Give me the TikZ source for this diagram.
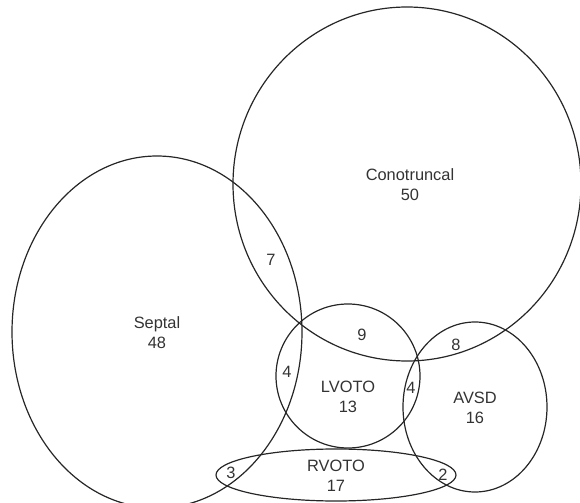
\documentclass[tikz,border=0pt]{standalone}
\usepackage{fontspec}
\setmainfont{Liberation Sans}
\usetikzlibrary{positioning}

\tikzset{
  setline/.style={line width=0.6pt, black!85},
  setlabel/.style={font=\fontsize{8.2}{10}\selectfont, align=center, inner sep=0pt, text=black!80},
}

\begin{document}
\begin{tikzpicture}[x=0.5pt, y=-0.5pt]
  \useasboundingbox (0,0) rectangle (580,503);
  \clip (0,0) rectangle (580,503);
  % centres of the sets
  \coordinate (conot) at (407,184);
  \coordinate (septal) at (157,332);
  \coordinate (lvoto) at (348,376);
  \coordinate (avsd) at (475,407);
  \coordinate (rvoto) at (336,475);
  \draw[setline] (conot) ellipse [x radius=174, y radius=177];
  \draw[setline] (septal) ellipse [x radius=145, y radius=176];
  \draw[setline] (lvoto) ellipse [x radius=72, y radius=72];
  \draw[setline] (avsd) ellipse [x radius=72, y radius=85];
  \draw[setline] (rvoto) ellipse [x radius=120, y radius=26];
  % set names and counts
  \node[setlabel] (conotlabel) at (410,185) {Conotruncal\\50};
  \node[setlabel] (septallabel) at (157,333) {Septal\\48};
  \node[setlabel] (lvotolabel) at (348,397) {LVOTO\\13};
  \node[setlabel] (avsdlabel) at (475,408) {AVSD\\16};
  \node[setlabel] (rvotolabel) at (336,476) {RVOTO\\17};
  % overlaps
  \node[setlabel] (septalconot) at (271,260) {7};
  \node[setlabel] (lvotoconot) at (362,335) {9};
  \node[setlabel] (avsdconot) at (456,345) {8};
  \node[setlabel] (septallvoto) at (287,372) {4};
  \node[setlabel] (lvotoavsd) at (411,388) {4};
  \node[setlabel] (septalrvoto) at (231,473) {3};
  \node[setlabel] (avsdrvoto) at (443,475) {2};
\end{tikzpicture}
\end{document}
